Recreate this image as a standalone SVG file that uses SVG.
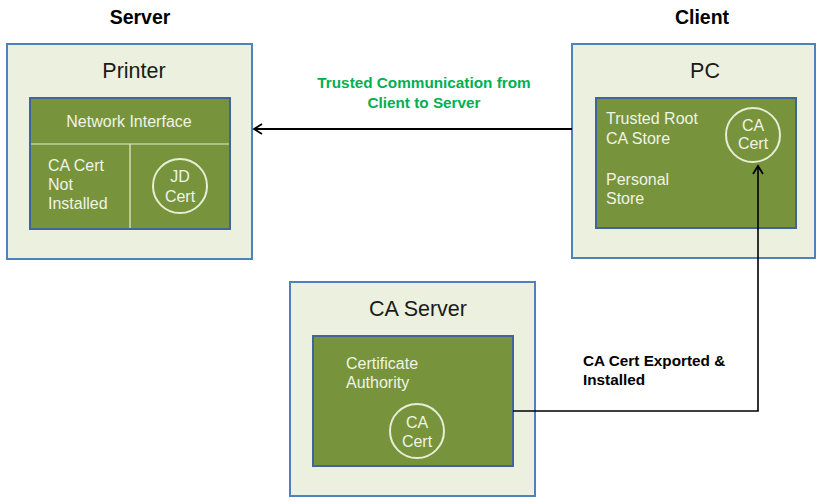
<svg xmlns="http://www.w3.org/2000/svg" width="817" height="502" viewBox="0 0 817 502">
<defs>
<style>
.outer{fill:#ebf1de;stroke:#4f81bd;stroke-width:2}
.inner{fill:#77933c;stroke:#41659a;stroke-width:2}
.div{stroke:#e6eed5;stroke-width:1.2}
.circ{fill:none;stroke:#e6eed5;stroke-width:2}
.title{font-family:"Liberation Sans",Arial,sans-serif;font-size:21.5px;fill:#1a1a1a}
.in{font-family:"Liberation Sans",Arial,sans-serif;font-size:16px;fill:#f0f4e6}
.hdr{font-family:"Liberation Sans",Arial,sans-serif;font-size:19.5px;font-weight:bold;fill:#000}
.lbl{font-family:"Liberation Sans",Arial,sans-serif;font-size:15.3px;font-weight:bold}
.conn{fill:none;stroke:#000}
</style>
<marker id="arr" markerWidth="12" markerHeight="12" refX="10" refY="6" orient="auto" markerUnits="userSpaceOnUse">
<path d="M2,1 L10,6 L2,11" fill="none" stroke="#000" stroke-width="1.8"/>
</marker>
</defs>
<rect width="817" height="502" fill="#fff"/>
<text class="hdr" x="140" y="24" text-anchor="middle">Server</text>
<text class="hdr" x="702" y="24" text-anchor="middle">Client</text>

<g id="printer">
<rect class="outer" x="7" y="44" width="245" height="215"/>
<text class="title" x="134" y="78" text-anchor="middle">Printer</text>
<rect class="inner" x="30" y="98" width="200" height="131"/>
<line class="div" x1="31" y1="144" x2="229" y2="144"/>
<line class="div" x1="130" y1="144" x2="130" y2="228"/>
<text class="in" x="129" y="127" text-anchor="middle">Network Interface</text>
<text class="in" x="48" y="171">CA Cert</text>
<text class="in" x="48" y="190">Not</text>
<text class="in" x="48" y="209">Installed</text>
<circle class="circ" cx="180" cy="186" r="27"/>
<text class="in" x="180" y="182" text-anchor="middle">JD</text>
<text class="in" x="180" y="202" text-anchor="middle">Cert</text>
</g>

<g id="pc">
<rect class="outer" x="572" y="44" width="243" height="214"/>
<text class="title" x="705" y="78" text-anchor="middle">PC</text>
<rect class="inner" x="596" y="98" width="200" height="130"/>
<text class="in" x="606" y="124">Trusted Root</text>
<text class="in" x="606" y="144">CA Store</text>
<text class="in" x="606" y="185">Personal</text>
<text class="in" x="606" y="204">Store</text>
<circle class="circ" cx="753" cy="135" r="27"/>
<text class="in" x="753" y="131" text-anchor="middle">CA</text>
<text class="in" x="753" y="149" text-anchor="middle">Cert</text>
</g>

<g id="caserver">
<rect class="outer" x="290" y="282" width="245" height="214"/>
<text class="title" x="418" y="316" text-anchor="middle">CA Server</text>
<rect class="inner" x="313" y="336" width="200" height="130"/>
<text class="in" x="346" y="369">Certificate</text>
<text class="in" x="346" y="388">Authority</text>
<circle class="circ" cx="417" cy="431" r="27"/>
<text class="in" x="417" y="428" text-anchor="middle">CA</text>
<text class="in" x="417" y="447" text-anchor="middle">Cert</text>
</g>

<g id="connectors">
<line class="conn" x1="572" y1="129" x2="254" y2="129" stroke-width="2" marker-end="url(#arr)"/>
<polyline class="conn" points="513,411 758,411 758,166" stroke-width="1.6" marker-end="url(#arr)"/>
<text class="lbl" fill="#00b050" x="424" y="88" text-anchor="middle">Trusted Communication from</text>
<text class="lbl" fill="#00b050" x="424" y="108" text-anchor="middle">Client to Server</text>
<text class="lbl" fill="#000" x="583" y="366">CA Cert Exported &amp;</text>
<text class="lbl" fill="#000" x="583" y="385">Installed</text>
</g>
</svg>
